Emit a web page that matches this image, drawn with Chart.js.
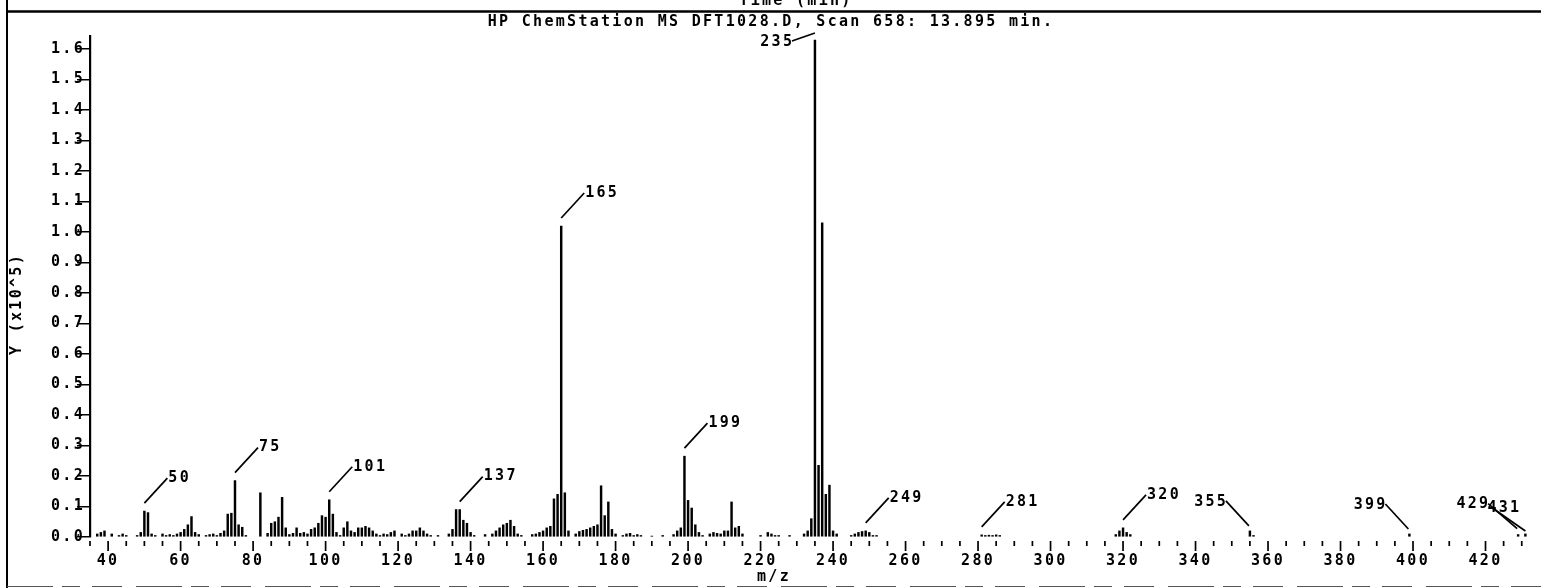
<!DOCTYPE html>
<html>
<head>
<meta charset="utf-8">
<script src="https://cdn.jsdelivr.net/npm/chart.js@4.4.1/dist/chart.umd.min.js"></script>
<style>
  html, body { margin: 0; padding: 0; background: #fff; }
  canvas { display: block; }
</style>
</head>
<body>
<canvas id="spectrum" width="1541" height="588"></canvas>
<script>
// m/z values and abundances (x10^5) for scan 658
const mz = [
  37, 38, 39, 41, 43, 44, 45, 48, 49, 50, 51, 52, 53, 55, 56, 57, 58, 59, 60, 61,
  62, 63, 64, 65, 67, 68, 69, 70, 71, 72, 73, 74, 75, 76, 77, 78, 82, 84, 85, 86,
  87, 88, 89, 90, 91, 92, 93, 94, 95, 96, 97, 98, 99, 100, 101, 102, 103, 104, 105, 106,
  107, 108, 109, 110, 111, 112, 113, 114, 115, 116, 117, 118, 119, 121, 122, 123, 124, 125, 126, 127,
  128, 129, 131, 134, 135, 136, 137, 138, 139, 140, 141, 144, 146, 147, 148, 149, 150, 151, 152, 153,
  154, 157, 158, 159, 160, 161, 162, 163, 164, 165, 166, 167, 169, 170, 171, 172, 173, 174, 175, 176,
  177, 178, 179, 180, 182, 183, 184, 185, 186, 187, 190, 193, 196, 197, 198, 199, 200, 201, 202, 203,
  204, 206, 207, 208, 209, 210, 211, 212, 213, 214, 215, 220, 222, 223, 224, 225, 228, 232, 233, 234,
  235, 236, 237, 238, 239, 240, 241, 245, 246, 247, 248, 249, 250, 251, 252, 281, 282, 283, 284, 285,
  286, 318, 319, 320, 321, 322, 355, 356, 399, 429, 431
];
const abundance = [
  0.01, 0.015, 0.02, 0.01, 0.005, 0.01, 0.005, 0.005, 0.015, 0.085, 0.08, 0.01, 0.005, 0.01, 0.005, 0.008, 0.005, 0.01, 0.015, 0.025,
  0.04, 0.067, 0.015, 0.008, 0.005, 0.008, 0.01, 0.005, 0.012, 0.02, 0.075, 0.078, 0.185, 0.04, 0.032, 0.005, 0.145, 0.012, 0.045, 0.05,
  0.065, 0.13, 0.03, 0.008, 0.012, 0.03, 0.012, 0.015, 0.01, 0.025, 0.03, 0.045, 0.07, 0.065, 0.122, 0.075, 0.015, 0.005, 0.03, 0.05,
  0.02, 0.015, 0.03, 0.03, 0.035, 0.03, 0.02, 0.01, 0.005, 0.01, 0.008, 0.015, 0.02, 0.01, 0.005, 0.01, 0.02, 0.02, 0.03, 0.02,
  0.01, 0.005, 0.005, 0.01, 0.025, 0.09, 0.09, 0.055, 0.045, 0.015, 0.005, 0.008, 0.01, 0.02, 0.03, 0.04, 0.045, 0.055, 0.035, 0.01,
  0.005, 0.008, 0.01, 0.015, 0.02, 0.03, 0.035, 0.125, 0.14, 1.02, 0.145, 0.02, 0.01, 0.018, 0.022, 0.025, 0.03, 0.035, 0.04, 0.168,
  0.07, 0.115, 0.025, 0.01, 0.005, 0.01, 0.012, 0.005, 0.008, 0.005, 0.003, 0.005, 0.008, 0.02, 0.03, 0.265, 0.12, 0.095, 0.04, 0.015,
  0.005, 0.01, 0.015, 0.012, 0.01, 0.02, 0.02, 0.115, 0.03, 0.035, 0.01, 0.005, 0.015, 0.01, 0.005, 0.005, 0.005, 0.01, 0.02, 0.06,
  1.63, 0.235, 1.03, 0.14, 0.17, 0.02, 0.01, 0.005, 0.01, 0.015, 0.018, 0.02, 0.015, 0.005, 0.005, 0.007, 0.005, 0.006, 0.005, 0.007,
  0.005, 0.008, 0.02, 0.03, 0.015, 0.008, 0.02, 0.005, 0.01, 0.008, 0.01
];

// peaks that get an m/z label
const labelledPeaks = [50, 75, 101, 137, 165, 199, 235, 249, 281, 320, 355, 399, 429, 431];

const titleText = 'HP ChemStation MS DFT1028.D, Scan 658: 13.895 min.';
const xTitle = 'm/z';
const yTitle = 'Y (x10^5)';
const topCaption = 'Time (min)';

const MONO = "'DejaVu Sans Mono', 'Liberation Mono', monospace";
const FONT_SIZE = 15;
const SPACING = '2.3px';

// leader line geometry: [startDx, startDy, endDx, endDy, textAlign, textDx]
const leaderStyle = {
  up: [0, -8, 23, -33, 'left', 1],
  back: [-1, -5, -24, -30, 'right', 2.3],
  235: [0, -7, -23, 1, 'right', 2.3],
  429: [-1, -6, -30, -31, 'right', 2.3],
  431: [0, -3, -33, -26, 'left', -5]
};
const leaderKind = { 235: '235', 355: 'back', 399: 'back', 429: '429', 431: '431' };

const points = mz.map((m, i) => ({ x: m, y: abundance[i] }));

const plotterText = {
  id: 'plotterText',
  beforeDraw(chart) {
    const ctx = chart.ctx;
    ctx.letterSpacing = SPACING;
    ctx.fillStyle = '#fff';
    ctx.fillRect(0, 0, chart.width, chart.height);
  },
  afterDatasetsDraw(chart) {
    const ctx = chart.ctx;
    const xs = chart.scales.x, ys = chart.scales.y;
    ctx.save();
    ctx.strokeStyle = '#000';
    ctx.fillStyle = '#000';
    ctx.lineWidth = 1.7;
    ctx.font = 'bold ' + FONT_SIZE + 'px ' + MONO;
    ctx.letterSpacing = SPACING;
    ctx.textBaseline = 'middle';
    labelledPeaks.forEach(m => {
      const v = abundance[mz.indexOf(m)];
      const px = xs.getPixelForValue(m);
      const py = ys.getPixelForValue(v);
      const s = leaderStyle[leaderKind[m] || 'up'];
      ctx.beginPath();
      ctx.moveTo(px + s[0], py + s[1]);
      ctx.lineTo(px + s[2], py + s[3]);
      ctx.stroke();
      ctx.textAlign = s[4];
      const ty = s[4] === 'left' ? py + s[3] : py + s[3] + 1;
      ctx.fillText(String(m), px + s[2] + s[5], ty);
    });
    ctx.restore();
  },
  afterDraw(chart) {
    const ctx = chart.ctx;
    const xs = chart.scales.x;
    const area = chart.chartArea;
    ctx.save();
    ctx.strokeStyle = '#000';
    ctx.fillStyle = '#000';

    // x tick marks, long ones every 20
    ctx.lineWidth = 1.7;
    xs.ticks.forEach(t => {
      const px = xs.getPixelForValue(t.value);
      const major = t.value % 20 === 0;
      ctx.beginPath();
      ctx.moveTo(px, area.bottom + 4);
      ctx.lineTo(px, area.bottom + (major ? 14 : 9));
      ctx.stroke();
    });

    ctx.font = 'bold ' + FONT_SIZE + 'px ' + MONO;
    ctx.letterSpacing = SPACING;
    ctx.textAlign = 'center';
    ctx.textBaseline = 'middle';
    ctx.fillText(titleText, 771, 22);
    ctx.fillText(xTitle, 774, 577);
    ctx.textBaseline = 'alphabetic';
    ctx.fillText(topCaption, 796, 5);

    ctx.save();
    ctx.translate(17, 304);
    ctx.rotate(-Math.PI / 2);
    ctx.textBaseline = 'middle';
    ctx.fillText(yTitle, 0, 0);
    ctx.restore();

    // page frame
    ctx.lineWidth = 2;
    ctx.beginPath();
    ctx.moveTo(7, 0);
    ctx.lineTo(7, chart.height);
    ctx.stroke();
    ctx.lineWidth = 2.5;
    ctx.beginPath();
    ctx.moveTo(7, 11.5);
    ctx.lineTo(chart.width, 11.5);
    ctx.stroke();
    ctx.lineWidth = 1;
    ctx.strokeStyle = '#555';
    ctx.setLineDash([46, 9, 18, 12, 30, 14]);
    ctx.beginPath();
    ctx.moveTo(7, 586.5);
    ctx.lineTo(chart.width, 586.5);
    ctx.stroke();
    ctx.restore();
  }
};

new Chart(document.getElementById('spectrum'), {
  type: 'bar',
  data: {
    datasets: [{
      data: points,
      backgroundColor: '#000',
      borderWidth: 0,
      barThickness: 1.8
    }]
  },
  options: {
    responsive: false,
    animation: false,
    layout: { padding: { top: 36, right: 12, left: 0, bottom: 0 } },
    plugins: {
      legend: { display: false },
      title: { display: false },
      tooltip: { enabled: false }
    },
    scales: {
      x: {
        type: 'linear',
        min: 35,
        max: 432,
        offset: false,
        border: { display: false },
        grid: { drawOnChartArea: false, drawTicks: true, tickLength: 13, color: 'rgba(0,0,0,0)' },
        ticks: {
          stepSize: 5,
          autoSkip: false,
          maxRotation: 0,
          includeBounds: false,
          padding: 2,
          color: '#000',
          font: { family: MONO, size: FONT_SIZE, weight: 'bold' },
          callback: v => (v % 20 === 0 ? String(v) : '')
        },
        afterFit(scale) { scale.height = 51; }
      },
      y: {
        min: 0,
        max: 1.643,
        border: { display: true, color: '#000', width: 2.2, dash: [2, 2] },
        grid: { drawOnChartArea: false, drawTicks: true, tickLength: 13, color: '#000', lineWidth: 1.5 },
        ticks: {
          stepSize: 0.1,
          includeBounds: false,
          padding: -8,
          color: '#000',
          font: { family: MONO, size: FONT_SIZE, weight: 'bold' },
          callback: v => v.toFixed(1)
        },
        afterFit(scale) { scale.width = 90; }
      }
    }
  },
  plugins: [plotterText]
});
</script>
</body>
</html>
